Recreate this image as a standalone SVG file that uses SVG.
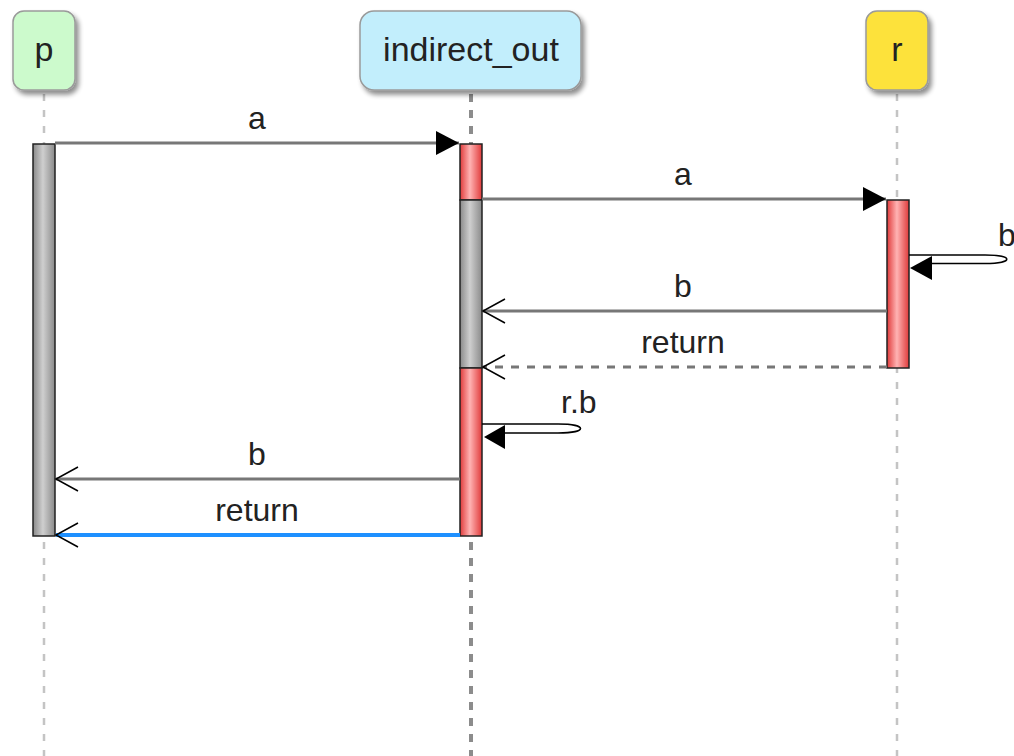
<svg xmlns="http://www.w3.org/2000/svg" width="1014" height="756" viewBox="0 0 1014 756">
<defs>
<filter id="sh" x="-20%" y="-20%" width="150%" height="150%">
<feGaussianBlur in="SourceAlpha" stdDeviation="2.5"/>
<feOffset dx="3" dy="4" result="b"/>
<feComponentTransfer><feFuncA type="linear" slope="0.45"/></feComponentTransfer>
<feMerge><feMergeNode/><feMergeNode in="SourceGraphic"/></feMerge>
</filter>
<linearGradient id="red" x1="0" y1="0" x2="1" y2="0">
<stop offset="0" stop-color="#e03a3a"/><stop offset="0.45" stop-color="#ffb3b3"/><stop offset="1" stop-color="#e03a3a"/>
</linearGradient>
<linearGradient id="gray" x1="0" y1="0" x2="1" y2="0">
<stop offset="0" stop-color="#8a8a8a"/><stop offset="0.45" stop-color="#cfcfcf"/><stop offset="1" stop-color="#8a8a8a"/>
</linearGradient>
<marker id="fill" markerUnits="userSpaceOnUse" markerWidth="24" markerHeight="26" refX="23" refY="12" orient="auto">
<path d="M0,0 L23,12 L0,24 Z" fill="#000"/>
</marker>
<marker id="open" markerUnits="userSpaceOnUse" markerWidth="26" markerHeight="28" refX="23" refY="13" orient="auto">
<path d="M1,1 L23,13 L1,25" fill="none" stroke="#000" stroke-width="1.5"/>
</marker>
</defs>
<style>
.node{stroke:#9a9a9a;stroke-width:1.5}
.nt{font-family:"Liberation Sans",Arial,sans-serif;font-size:34px;fill:#222;text-anchor:middle}
.lbl{font-family:"Liberation Sans",Arial,sans-serif;font-size:32px;fill:#222;text-anchor:middle}
.ls{text-anchor:start}
.life{stroke:#c4c4c4;stroke-width:2.5;stroke-dasharray:7 9;fill:none}
.lifeb{stroke:#8c8c8c;stroke-width:4;stroke-dasharray:8 8;fill:none}
.msg{stroke:#777;stroke-width:3;fill:none}
.actr{fill:url(#red);stroke:#222;stroke-width:1.5}
.actg{fill:url(#gray);stroke:#222;stroke-width:1.5}
.loop{fill:none;stroke:#000;stroke-width:1.6}
</style>
<rect width="1014" height="756" fill="#fff"/>
<g id="lifelines">
<line class="life" x1="44" y1="94" x2="44" y2="756"/>
<line class="lifeb" x1="471" y1="94" x2="471" y2="756"/>
<line class="life" x1="897" y1="94" x2="897" y2="756"/>
</g>
<g id="node-p">
<rect class="node" x="13" y="11" width="62" height="79" rx="11" fill="#ccfacc" filter="url(#sh)"/>
<text class="nt" x="44" y="61">p</text>
</g>
<g id="node-indirect_out">
<rect class="node" x="360" y="11" width="221" height="79" rx="14" fill="#c2eefc" filter="url(#sh)"/>
<text class="nt" x="471" y="61">indirect_out</text>
</g>
<g id="node-r">
<rect class="node" x="866" y="11" width="62" height="79" rx="11" fill="#fde23a" filter="url(#sh)"/>
<text class="nt" x="897" y="61">r</text>
</g>
<g id="activations">
<rect class="actg" x="33" y="144" width="22" height="392"/>
<rect class="actr" x="460" y="144" width="22" height="56"/>
<rect class="actg" x="460" y="200" width="22" height="168"/>
<rect class="actr" x="460" y="368" width="22" height="168"/>
<rect class="actr" x="887" y="200" width="22" height="168"/>
</g>
<g id="connectors">
<line class="msg" x1="55" y1="143" x2="459" y2="143" marker-end="url(#fill)"/>
<text class="lbl" x="257" y="129">a</text>
<line class="msg" x1="482" y1="199" x2="886" y2="199" marker-end="url(#fill)"/>
<text class="lbl" x="683" y="185">a</text>
<path class="loop" d="M909,255 L985,255 C1014,255 1014,263.5 985,263.5 L930,263.5"/>
<path d="M910,268 L932,256 L932,280 Z" fill="#000"/>
<text class="lbl ls" x="998" y="246">b</text>
<line class="msg" x1="887" y1="311" x2="483" y2="311" marker-end="url(#open)"/>
<text class="lbl" x="683" y="297">b</text>
<line class="msg" x1="887" y1="367" x2="483" y2="367" style="stroke-dasharray:8 8" marker-end="url(#open)"/>
<text class="lbl" x="683" y="353">return</text>
<path class="loop" d="M482,424 L558,424 C588,424 588,433 558,433 L504,433"/>
<path d="M484,437 L505,425 L505,449 Z" fill="#000"/>
<text class="lbl ls" x="561" y="413">r.b</text>
<line class="msg" x1="460" y1="479" x2="56" y2="479" marker-end="url(#open)"/>
<text class="lbl" x="257" y="465">b</text>
<line class="msg" x1="460" y1="535" x2="56" y2="535" style="stroke:#1e90ff;stroke-width:4" marker-end="url(#open)"/>
<text class="lbl" x="257" y="521">return</text>
</g>
</svg>
